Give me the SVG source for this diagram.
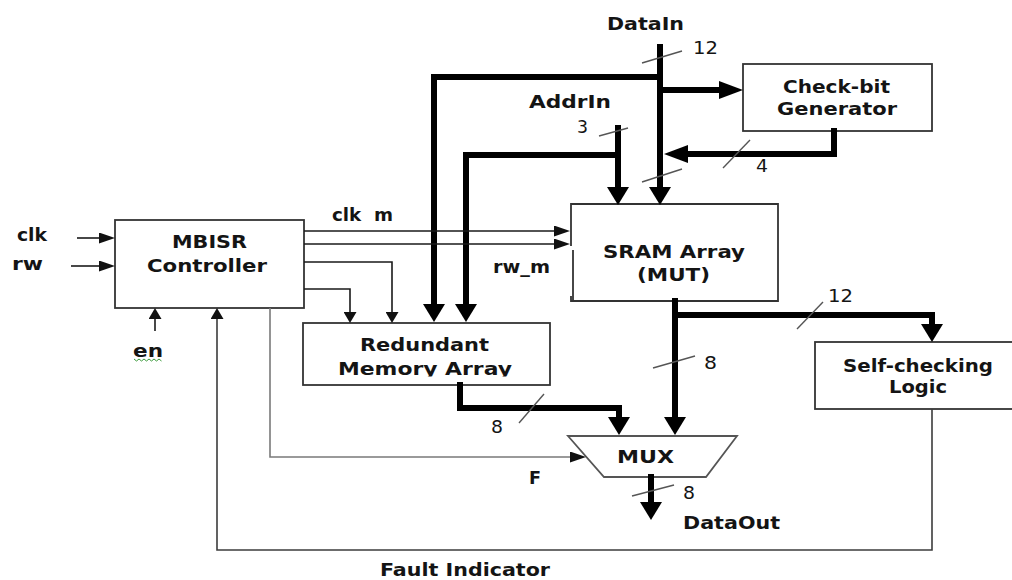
<svg xmlns="http://www.w3.org/2000/svg" width="1012" height="580" viewBox="0 0 1012 580">
<style>
.box{fill:#fff;stroke:#333;stroke-width:1.8}
.bus{fill:none;stroke:#000;stroke-width:6;stroke-linecap:square;stroke-linejoin:miter}
.wire{fill:none;stroke:#1a1a1a;stroke-width:1.6}
.gray{fill:none;stroke:#7a7a7a;stroke-width:1.6}
.dk{fill:none;stroke:#3c3c3c;stroke-width:1.6}
.slash{stroke:#555;stroke-width:1.4}
.lbl{font-family:"DejaVu Sans",Verdana,sans-serif;font-weight:bold;font-size:18px;fill:#141414}
.num{font-family:"DejaVu Sans",Verdana,sans-serif;font-weight:normal;font-size:17px;fill:#141414}
</style>
<defs>
<marker id="av" viewBox="0 0 18 22" refX="0" refY="11" markerWidth="18" markerHeight="22" markerUnits="userSpaceOnUse" orient="auto"><path d="M0,0 L18,11 L0,22 z" fill="#000"/></marker>
<marker id="ah" viewBox="0 0 24 18" refX="0" refY="9" markerWidth="24" markerHeight="18" markerUnits="userSpaceOnUse" orient="auto"><path d="M0,0 L24,9 L0,18 z" fill="#000"/></marker>
<marker id="th" viewBox="0 0 16 11" refX="0" refY="5.5" markerWidth="16" markerHeight="11" markerUnits="userSpaceOnUse" orient="auto"><path d="M0,0 L16,5.5 L0,11 z" fill="#111"/></marker>
<marker id="tv" viewBox="0 0 11 13" refX="0" refY="6.5" markerWidth="11" markerHeight="13" markerUnits="userSpaceOnUse" orient="auto"><path d="M0,0 L11,6.5 L0,13 z" fill="#111"/></marker>
<clipPath id="memclip"><rect x="300" y="355" width="260" height="21.5"/></clipPath>
</defs>

<g id="mbisr">
<rect class="box" x="115" y="220" width="189" height="88"/>
<text class="lbl" x="172" y="248" textLength="75" lengthAdjust="spacingAndGlyphs">MBISR</text>
<text class="lbl" x="147" y="272" textLength="120" lengthAdjust="spacingAndGlyphs">Controller</text>
</g>

<g id="checkbit">
<rect class="box" x="743" y="64" width="189" height="67"/>
<text class="lbl" x="783" y="93" textLength="107" lengthAdjust="spacingAndGlyphs">Check-bit</text>
<text class="lbl" x="777" y="115" textLength="120" lengthAdjust="spacingAndGlyphs">Generator</text>
</g>

<g id="sram">
<path d="M571,246 V204 H778 V301 H571 V296" fill="#fff" stroke="#333" stroke-width="1.8"/>
<path d="M573,250 V301" fill="none" stroke="#333" stroke-width="1.8"/>
<text class="lbl" x="603" y="258" textLength="142" lengthAdjust="spacingAndGlyphs">SRAM Array</text>
<text class="lbl" x="637" y="281" textLength="73" lengthAdjust="spacingAndGlyphs">(MUT)</text>
</g>

<g id="redundant">
<rect class="box" x="303" y="323" width="247" height="62"/>
<text class="lbl" x="360" y="351" textLength="129" lengthAdjust="spacingAndGlyphs">Redundant</text>
<text class="lbl" x="338" y="375" textLength="174" lengthAdjust="spacingAndGlyphs" clip-path="url(#memclip)">Memory Array</text>
</g>

<g id="selfcheck">
<rect class="box" x="815" y="342" width="215" height="67"/>
<text class="lbl" x="843" y="372" textLength="150" lengthAdjust="spacingAndGlyphs">Self-checking</text>
<text class="lbl" x="889" y="393" textLength="58" lengthAdjust="spacingAndGlyphs">Logic</text>
</g>

<g id="mux">
<path d="M568,436 H737 L706,477 H604 Z" fill="#fff" stroke="#555" stroke-width="1.8"/>
<text class="lbl" x="617" y="463" textLength="57" lengthAdjust="spacingAndGlyphs">MUX</text>
</g>

<g id="connectors">
<path class="bus" d="M660,47 V187" marker-end="url(#av)"/>
<path class="bus" d="M660,77 H434 V304" marker-end="url(#av)"/>
<path class="bus" d="M660,90 H719" marker-end="url(#ah)"/>
<path class="bus" d="M834,131 V154 H688" marker-end="url(#ah)"/>
<path class="bus" d="M618,128 V187" marker-end="url(#av)"/>
<path class="bus" d="M618,155 H466 V304" marker-end="url(#av)"/>
<path class="bus" d="M675,301 V417" marker-end="url(#av)"/>
<path class="bus" d="M675,315 H932 V324" marker-end="url(#av)"/>
<path class="bus" d="M460,385 V408 H619 V417" marker-end="url(#av)"/>
<path class="bus" d="M651,477 V502" marker-end="url(#av)"/>
<path class="wire" d="M77,238 H99" marker-end="url(#th)"/>
<path class="wire" d="M71,266 H99" marker-end="url(#th)"/>
<path class="wire" d="M155,331 V319" marker-end="url(#tv)"/>
<path class="wire" d="M304,231 H554" marker-end="url(#th)"/>
<path class="wire" d="M304,244 H554" marker-end="url(#th)"/>
<path class="wire" d="M304,262 H392 V312" marker-end="url(#tv)"/>
<path class="wire" d="M304,289 H350 V312" marker-end="url(#tv)"/>
<path class="gray" d="M270,308 V457 H570" marker-end="url(#th)"/>
<path class="dk" d="M932,409 V550 H217 V319" marker-end="url(#tv)"/>
<line class="slash" x1="642" y1="63" x2="682" y2="51"/>
<line class="slash" x1="642" y1="182" x2="682" y2="169"/>
<line class="slash" x1="599" y1="136" x2="628" y2="128"/>
<line class="slash" x1="723" y1="168" x2="750" y2="140"/>
<line class="slash" x1="797" y1="329" x2="823" y2="302"/>
<line class="slash" x1="653" y1="368" x2="695" y2="356"/>
<line class="slash" x1="519" y1="423" x2="544" y2="394"/>
<line class="slash" x1="632" y1="496" x2="674" y2="485"/>
</g>

<g id="labels">
<text class="lbl" x="607" y="30" textLength="77" lengthAdjust="spacingAndGlyphs">DataIn</text>
<text class="num" x="693" y="54" textLength="25" lengthAdjust="spacingAndGlyphs">12</text>
<text class="lbl" x="529" y="108" textLength="82" lengthAdjust="spacingAndGlyphs">AddrIn</text>
<text class="num" x="577" y="133" textLength="11" lengthAdjust="spacingAndGlyphs">3</text>
<text class="num" x="756" y="172" textLength="12" lengthAdjust="spacingAndGlyphs">4</text>
<text class="lbl" x="332" y="221" textLength="61" lengthAdjust="spacingAndGlyphs" style="white-space:pre">clk  m</text>
<text class="lbl" x="493" y="273" textLength="57" lengthAdjust="spacingAndGlyphs">rw_m</text>
<text class="lbl" x="17" y="241" textLength="30" lengthAdjust="spacingAndGlyphs">clk</text>
<text class="lbl" x="12" y="270" textLength="31" lengthAdjust="spacingAndGlyphs">rw</text>
<text class="lbl" x="133" y="357" textLength="30" lengthAdjust="spacingAndGlyphs">en</text>
<path d="M134,359 l2.5,2 l2.5,-2 l2.5,2 l2.5,-2 l2.5,2 l2.5,-2 l2.5,2 l2.5,-2 l2.5,2 l2.5,-2 l2.5,2" fill="none" stroke="#3a9a3a" stroke-width="1"/>
<text class="num" x="828" y="302" textLength="25" lengthAdjust="spacingAndGlyphs">12</text>
<text class="num" x="704" y="369" textLength="13" lengthAdjust="spacingAndGlyphs">8</text>
<text class="num" x="491" y="433" textLength="12" lengthAdjust="spacingAndGlyphs">8</text>
<text class="num" x="683" y="499" textLength="12" lengthAdjust="spacingAndGlyphs">8</text>
<text class="lbl" x="529" y="484" textLength="12" lengthAdjust="spacingAndGlyphs">F</text>
<text class="lbl" x="683" y="529" textLength="97" lengthAdjust="spacingAndGlyphs">DataOut</text>
<text class="lbl" x="380" y="576" font-size="17" textLength="170" lengthAdjust="spacingAndGlyphs">Fault Indicator</text>
</g>
</svg>
